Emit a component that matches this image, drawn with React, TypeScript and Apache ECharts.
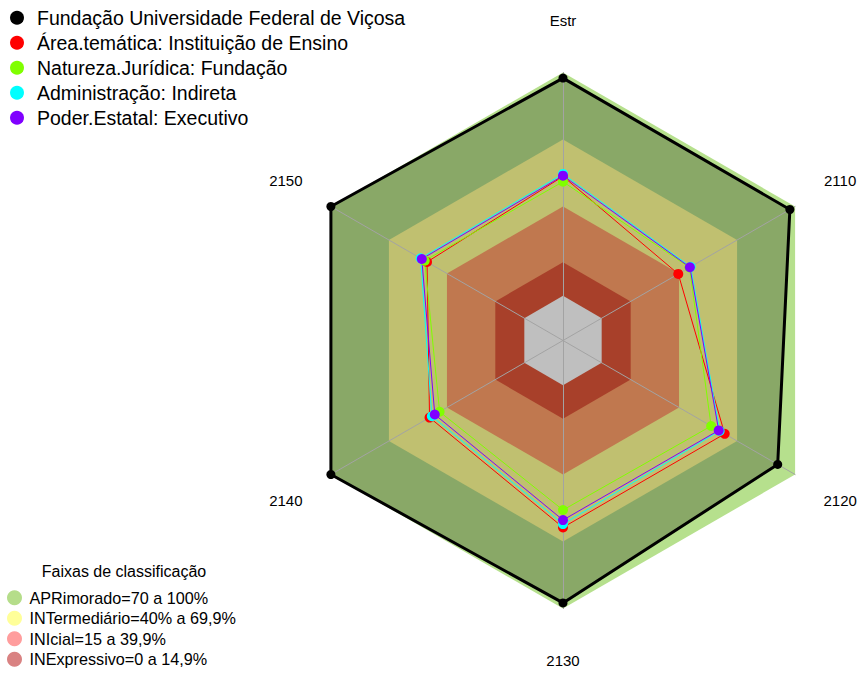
import React, { useEffect, useRef } from "react";
import * as echarts from "echarts";

// ---- data ----
const axes = ["Estr", "2110", "2120", "2130", "2140", "2150"];
const seriesNames = [
  "Fundação Universidade Federal de Viçosa",
  "Área.temática: Instituição de Ensino",
  "Natureza.Jurídica: Fundação",
  "Administração: Indireta",
  "Poder.Estatal: Executivo",
];
const seriesColors = ["#000000", "#ff0000", "#80ff00", "#00ffff", "#8000ff"];
const fundacao = [97.5, 97.3, 91, 97.5, 100, 100];
const areaTematica = [53.5, 39.6, 63.6, 63.7, 49, 50.3];
const natureza = [51.1, 45.4, 56.6, 55.9, 43.8, 51.5];
const administracao = [54.6, 46, 61, 62.2, 47.8, 53.6];
const poderEstatal = [53.8, 45.6, 60.5, 60.4, 46.3, 53];
const seriesValues = [fundacao, areaTematica, natureza, administracao, poderEstatal];

const bandNames = [
  "APRimorado=70 a 100%",
  "INTermediário=40% a 69,9%",
  "INIcial=15 a 39,9%",
  "INExpressivo=0 a 14,9%",
];
const bandLevels = [100, 70, 40, 15];
const bandLegendColors = ["#b5dd8a", "#ffff99", "#ff9d9d", "#d98282"];
// fill colours as they appear inside the institution polygon
const bandInnerColors = ["#89a867", "#c0c070", "#c0784f", "#a8402a"];
const bandOuterColor = "#b6e08d";
const centerColor = "#bfbfbf";
const axisMin = -20;
const axisMax = 100;

const FONT = '"Liberation Sans", Arial, sans-serif';

// ECharts lays radar indicators out counter-clockwise; reorder so the
// reference's clockwise order is reproduced.
const order = [0, 5, 4, 3, 2, 1];
const reorder = (arr: any[]) => order.map((i) => arr[i]);

export default function App() {
  const ref = useRef<HTMLDivElement>(null);
  useEffect(() => {
    if (!ref.current) return;
    const chart = echarts.init(ref.current, undefined, { renderer: "svg" });
    const flat = (v: number) => axes.map(() => v);
    const areaSeries = (name: string, values: number[], color: string, z = 1) => ({
      type: "radar",
      z,
      silent: true,
      symbol: "none",
      lineStyle: { width: 0, color },
      itemStyle: { color },
      areaStyle: { color, opacity: 1 },
      data: [{ name, value: reorder(values) }],
    });
    const series: any[] = [];
    // outer band (APRimorado), light green
    series.push(areaSeries(bandNames[0], flat(bandLevels[0]), bandOuterColor));
    // institution polygon fill darkens bands beneath
    series.push(areaSeries("__fill", fundacao, bandInnerColors[0]));
    for (let i = 1; i < bandLevels.length; i++) {
      series.push(areaSeries(bandNames[i], flat(bandLevels[i]), bandInnerColors[i]));
    }
    series.push(areaSeries("__center", flat(0), centerColor));
    seriesValues.forEach((vals, i) => {
      const isMain = i === 0;
      series.push({
        type: "radar",
        z: 3,
        symbol: "circle",
        symbolSize: isMain ? 9 : 10,
        lineStyle: { width: isMain ? 3 : 1, color: seriesColors[i] },
        itemStyle: { color: seriesColors[i], borderWidth: 0 },
        data: [{ name: seriesNames[i], value: reorder(vals) }],
      });
    });

    chart.setOption({
      animation: false,
      backgroundColor: "#ffffff",
      textStyle: { fontFamily: FONT },
      radar: {
        center: [563, 340.5],
        radius: 268,
        startAngle: 90,
        shape: "polygon",
        z: 2,
        nameGap: 52,
        axisName: {
          color: "#000000",
          fontSize: 15,
          fontFamily: FONT,
          align: "center",
          verticalAlign: "middle",
        },
        splitLine: { show: false },
        splitArea: { show: false },
        axisLine: { lineStyle: { color: "#a3a3a3", width: 1 } },
        axisTick: { show: false },
        axisLabel: { show: false },
        indicator: reorder(axes).map((name) => ({ name, min: axisMin, max: axisMax })),
      },
      legend: [
        {
          orient: "vertical",
          left: 10,
          top: 7.8,
          padding: 0,
          height: 140,
          icon: "circle",
          itemWidth: 30,
          itemHeight: 14,
          itemGap: 5.0,
          selectedMode: false,
          textStyle: { fontSize: 19.5, lineHeight: 19.5, color: "#000", fontFamily: FONT },
          data: seriesNames,
        },
        {
          orient: "vertical",
          left: 7,
          top: 589.7,
          padding: 0,
          height: 84,
          icon: "circle",
          itemWidth: 20,
          itemHeight: 15,
          itemGap: 4.5,
          selectedMode: false,
          textStyle: { fontSize: 16.2, lineHeight: 16, color: "#000", fontFamily: FONT },
          data: bandNames.map((name, i) => ({
            name,
            itemStyle: { color: bandLegendColors[i], borderWidth: 0 },
          })),
        },
      ],
      graphic: [
        {
          type: "text",
          x: 124,
          y: 571.7,
          style: {
            text: "Faixas de classificação",
            font: `16px ${FONT}`,
            fill: "#000",
            textAlign: "center",
            textVerticalAlign: "middle",
          },
        },
      ],
      series,
    });
    return () => chart.dispose();
  }, []);
  return (
    <div
      ref={ref}
      style={{ position: "fixed", left: 0, top: 0, width: 865, height: 675 }}
    />
  );
}
